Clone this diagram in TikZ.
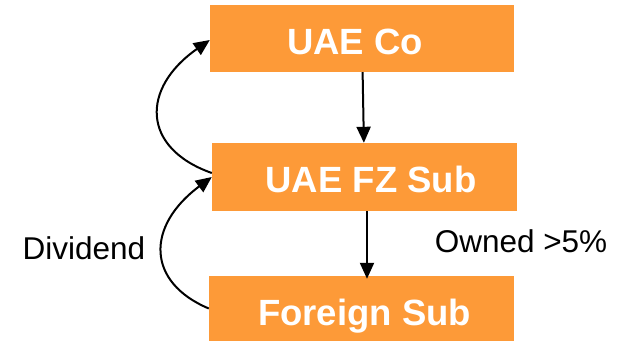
\documentclass[tikz,border=0pt]{standalone}
\usepackage{fontspec}
\setmainfont{Liberation Sans}
\usetikzlibrary{arrows.meta}
\definecolor{boxorange}{RGB}{253,154,56}
\tikzset{
  entity/.style={rectangle, fill=boxorange, draw=none, inner sep=0pt},
  entitytext/.style={anchor=base, text=white, font=\fontsize{36.5}{40}\selectfont\bfseries, inner sep=0pt},
  note/.style={anchor=base, text=black, font=\fontsize{31.5}{36}\selectfont, inner sep=0pt},
  flow/.style={draw=black, line width=2pt, -{Triangle[length=16pt,width=14pt]}},
}
\begin{document}
\begin{tikzpicture}[x=1pt, y=-1pt]
  \useasboundingbox (0,0) rectangle (625,341);
  % company boxes
  \node[entity, minimum width=304pt, minimum height=67pt] (co) at (362,38.5) {};
  \node[entity, minimum width=305pt, minimum height=68pt] (fz) at (364.5,177) {};
  \node[entity, minimum width=305pt, minimum height=65pt] (fs) at (361.5,308.5) {};
  \node[entitytext] (coT) at (355,54) {UAE Co};
  \node[entitytext] (fzT) at (371,192) {UAE FZ Sub};
  \node[entitytext] (fsT) at (364.5,325) {Foreign Sub};
  % side labels
  \node[note] (div) at (84,259) {Dividend};
  \node[note] (own) at (521,252) {Owned >5\%};
  % ownership chain
  \draw[flow] (co) -- (fz);
  \draw[flow] ([xshift=2.5pt]fz.south) -- ([xshift=5.5pt,yshift=-3pt]fs.north);
  % dividend flows
  \draw[flow] ([yshift=4pt]fz.west) .. controls (141,148) and (141,88) .. ([yshift=-1.5pt]co.west);
  \draw[flow] (fs.west) .. controls (146,282) and (146,226) .. (fz.west);
\end{tikzpicture}
\end{document}
